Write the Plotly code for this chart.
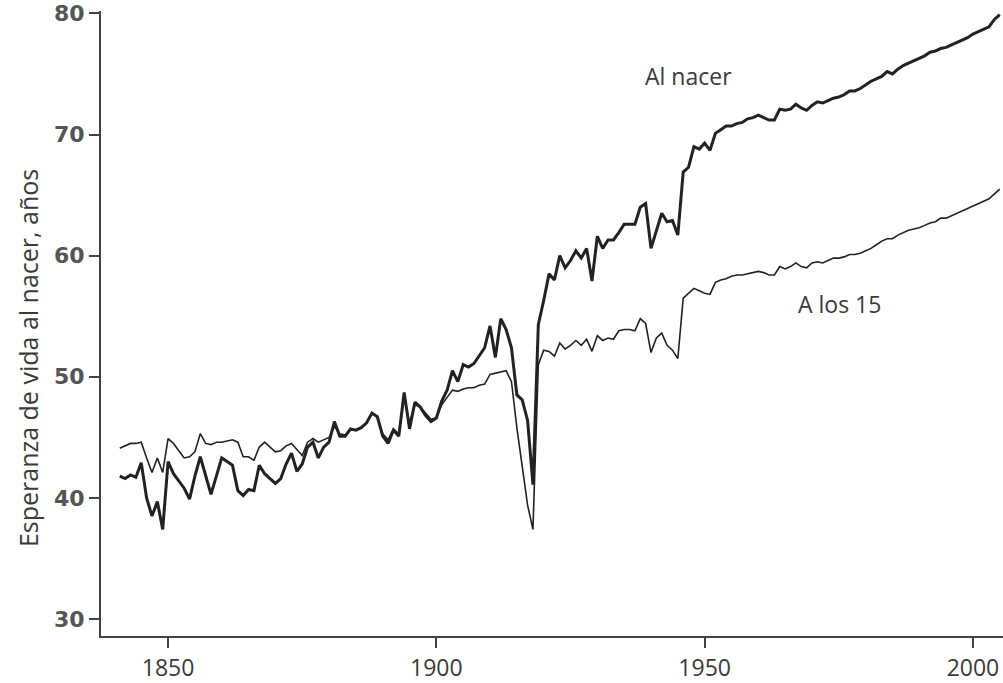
import plotly.graph_objects as go

years = list(range(1841, 2006))

al_nacer = [
    41.8, 41.6, 41.9, 41.7, 42.9, 40.0, 38.5, 39.7, 37.4, 43.0,  # 1841-1850
    42.0, 41.4, 40.8, 39.9, 41.8, 43.4, 41.8, 40.3, 41.8, 43.3,  # 1851-1860
    43.0, 42.7, 40.6, 40.2, 40.7, 40.6, 42.7, 42.0, 41.6, 41.2,  # 1861-1870
    41.6, 42.8, 43.7, 42.2, 42.8, 44.2, 44.6, 43.3, 44.2, 44.6,  # 1871-1880
    46.3, 45.1, 45.1, 45.7, 45.6, 45.8, 46.2, 47.0, 46.7, 45.1,  # 1881-1890
    44.5, 45.6, 45.1, 48.7, 45.7, 47.9, 47.5, 46.8, 46.3, 46.6,  # 1891-1900
    48.0, 48.9, 50.5, 49.6, 51.0, 50.8, 51.1, 51.8, 52.4, 54.2,  # 1901-1910
    51.6, 54.8, 53.9, 52.4, 48.5, 48.1, 46.4, 41.1, 54.3, 56.3,  # 1911-1920
    58.5, 58.0, 60.0, 59.0, 59.6, 60.4, 59.8, 60.6, 57.9, 61.6,  # 1921-1930
    60.6, 61.3, 61.3, 61.9, 62.6, 62.6, 62.6, 64.0, 64.3, 60.6,  # 1931-1940
    62.0, 63.5, 62.8, 62.9, 61.7, 66.9, 67.3, 69.0, 68.8, 69.3,  # 1941-1950
    68.7, 70.1, 70.4, 70.7, 70.7, 70.9, 71.0, 71.3, 71.4, 71.6,  # 1951-1960
    71.4, 71.2, 71.2, 72.1, 72.0, 72.1, 72.5, 72.2, 72.0, 72.4,  # 1961-1970
    72.7, 72.6, 72.8, 73.0, 73.1, 73.3, 73.6, 73.6, 73.8, 74.1,  # 1971-1980
    74.4, 74.6, 74.8, 75.2, 75.0, 75.4, 75.7, 75.9, 76.1, 76.3,  # 1981-1990
    76.5, 76.8, 76.9, 77.1, 77.2, 77.4, 77.6, 77.8, 78.0, 78.3,  # 1991-2000
    78.5, 78.7, 78.9, 79.5, 79.9,                                # 2001-2005
]

a_los_15 = [
    44.1, 44.3, 44.5, 44.5, 44.6, 43.3, 42.1, 43.3, 42.1, 44.9,  # 1841-1850
    44.5, 43.9, 43.3, 43.4, 43.8, 45.3, 44.5, 44.4, 44.6, 44.6,  # 1851-1860
    44.7, 44.8, 44.6, 43.4, 43.4, 43.1, 44.2, 44.6, 44.2, 43.8,  # 1861-1870
    43.9, 44.3, 44.5, 44.0, 43.5, 44.6, 44.9, 44.6, 44.8, 45.0,  # 1871-1880
    45.9, 45.3, 45.2, 45.6, 45.6, 45.8, 46.2, 47.0, 46.7, 45.3,  # 1881-1890
    44.8, 45.7, 45.3, 48.3, 46.2, 47.7, 47.5, 47.0, 46.5, 46.6,  # 1891-1900
    47.7, 48.3, 48.9, 48.8, 49.0, 49.1, 49.1, 49.3, 49.4, 50.2,  # 1901-1910
    50.3, 50.4, 50.5, 49.6, 45.8, 42.6, 39.4, 37.4, 51.0, 52.2,  # 1911-1920
    52.1, 51.7, 52.8, 52.3, 52.6, 53.0, 52.6, 53.1, 52.1, 53.4,  # 1921-1930
    53.0, 53.2, 53.1, 53.8, 53.9, 53.9, 53.8, 54.8, 54.4, 52.0,  # 1931-1940
    53.2, 53.6, 52.6, 52.2, 51.5, 56.5, 56.9, 57.3, 57.1, 56.9,  # 1941-1950
    56.8, 57.8, 58.0, 58.1, 58.3, 58.4, 58.4, 58.5, 58.6, 58.7,  # 1951-1960
    58.6, 58.4, 58.4, 59.1, 58.9, 59.1, 59.4, 59.1, 59.0, 59.4,  # 1961-1970
    59.5, 59.4, 59.6, 59.8, 59.8, 59.9, 60.1, 60.1, 60.2, 60.4,  # 1971-1980
    60.6, 60.9, 61.2, 61.4, 61.4, 61.7, 61.9, 62.1, 62.2, 62.3,  # 1981-1990
    62.5, 62.7, 62.8, 63.1, 63.1, 63.3, 63.5, 63.7, 63.9, 64.1,  # 1991-2000
    64.3, 64.5, 64.7, 65.1, 65.5,                                # 2001-2005
]

x_ticks = [1850, 1900, 1950, 2000]
y_ticks = [30, 40, 50, 60, 70, 80]

series_labels = ["Al nacer", "A los 15"]
y_title = "Esperanza de vida al nacer, años"

line_color = "#222222"
text_color = "#3a3a3a"

fig = go.Figure()
fig.add_trace(go.Scatter(x=years, y=a_los_15, mode="lines",
                         line=dict(color=line_color, width=1.6),
                         name=series_labels[1], showlegend=False))
fig.add_trace(go.Scatter(x=years, y=al_nacer, mode="lines",
                         line=dict(color=line_color, width=3),
                         name=series_labels[0], showlegend=False))

fig.add_annotation(x=1946.9, y=74.8, text=series_labels[0], showarrow=False,
                   xanchor="center", yanchor="middle",
                   font=dict(family="Open Sans", size=23, color=text_color))
fig.add_annotation(x=1975.2, y=56.0, text=series_labels[1], showarrow=False,
                   xanchor="center", yanchor="middle",
                   font=dict(family="Open Sans", size=23, color=text_color))
fig.add_annotation(xref="paper", yref="paper", x=(28 - 101) / 902, y=(643 - 362) / 632,
                   xanchor="center", yanchor="middle",
                   text=y_title, textangle=-90, showarrow=False,
                   font=dict(family="Open Sans", size=25, color=text_color))

fig.update_layout(
    width=1003, height=683,
    margin=dict(l=101, r=0, t=11, b=40),
    paper_bgcolor="white", plot_bgcolor="white",
    showlegend=False,
)
fig.update_xaxes(range=[1837.5, 2005.6], tickmode="array", tickvals=x_ticks,
                 showgrid=False, zeroline=False, showline=True,
                 linecolor="#444", linewidth=2, ticks="outside", ticklen=10,
                 tickwidth=1.5, tickcolor="#444",
                 tickfont=dict(family="Open Sans", size=23, color=text_color))
fig.update_yaxes(range=[28.6, 80.2], tickmode="array", tickvals=y_ticks,
                 showgrid=False, zeroline=False, showline=True,
                 linecolor="#444", linewidth=2, ticks="outside", ticklen=10,
                 tickwidth=1.5, tickcolor="#444",
                 tickfont=dict(family="DejaVu Sans", size=22, color="#555",
                               weight="bold"))

fig.write_html("out.html")
